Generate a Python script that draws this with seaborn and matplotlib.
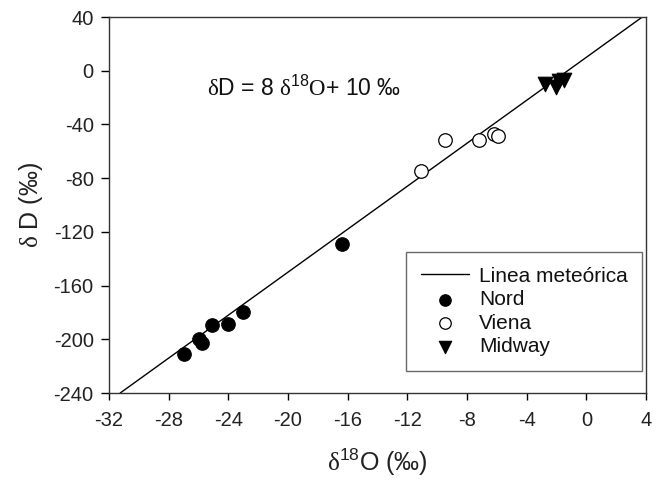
import matplotlib
matplotlib.use("Agg")
import matplotlib.pyplot as plt
import seaborn as sns
import pandas as pd

# Data
line_x = [-31.25, 3.75]
line_y = [-240, 40]

nord_x = [-27.0, -25.95, -25.75, -25.1, -24.0, -23.0, -16.35]
nord_y = [-211.0, -199.5, -202.5, -189.0, -188.5, -179.5, -129.0]

viena_x = [-11.1, -9.5, -7.2, -6.2, -5.9]
viena_y = [-74.5, -51.5, -51.5, -47.0, -48.5]

midway_x = [-2.75, -2.05, -1.85, -1.5]
midway_y = [-10.0, -12.0, -7.5, -7.0]

xticks = [-32, -28, -24, -20, -16, -12, -8, -4, 0, 4]
yticks = [40, 0, -40, -80, -120, -160, -200, -240]

sns.set_theme(style="white")
plt.rcParams['font.family'] = ['Liberation Sans', 'DejaVu Sans']
plt.rcParams['axes.unicode_minus'] = False
plt.rcParams['mathtext.fontset'] = 'custom'
plt.rcParams['mathtext.rm'] = 'Liberation Serif'
plt.rcParams['mathtext.sf'] = 'Liberation Sans'
plt.rcParams['mathtext.it'] = 'Liberation Sans'

fig = plt.figure(figsize=(6.63, 4.79), dpi=100)
ax = fig.add_axes([0.1644, 0.1795, 0.81, 0.785])

line_df = pd.DataFrame({"x": line_x, "y": line_y})
nord_df = pd.DataFrame({"x": nord_x, "y": nord_y})
viena_df = pd.DataFrame({"x": viena_x, "y": viena_y})
midway_df = pd.DataFrame({"x": midway_x, "y": midway_y})

sns.lineplot(data=line_df, x="x", y="y", ax=ax, color="black", linewidth=1.0,
             label="Linea meteórica")
sns.scatterplot(data=nord_df, x="x", y="y", ax=ax, marker="o", s=95,
                color="black", edgecolor="black", linewidth=0.8, label="Nord", zorder=3)
sns.scatterplot(data=viena_df, x="x", y="y", ax=ax, marker="o", s=95,
                facecolor="white", edgecolor="black", linewidth=0.9, label="Viena", zorder=3)
sns.scatterplot(data=midway_df, x="x", y="y", ax=ax, marker="v", s=110,
                color="black", edgecolor="black", linewidth=0.8, label="Midway", zorder=3)

ax.set_xlim(-32, 4)
ax.set_ylim(-240, 40)
ax.set_xticks(xticks)
ax.set_yticks(yticks)
ax.tick_params(axis="both", which="both", direction="out", width=1,
               color="black", labelsize=14.5, bottom=True, left=True, top=False, right=False,
               labelcolor="#222222")
ax.tick_params(axis="x", length=5, pad=8)
ax.tick_params(axis="y", length=6, pad=5)
for sp in ax.spines.values():
    sp.set_color("#333333")
    sp.set_linewidth(1.0)

ax.set_xlabel(r"$\mathrm{\delta}^{\mathsf{18}}$O (‰)", fontsize=18, color="#222222", labelpad=12)
ax.set_ylabel(r"$\mathrm{\delta}$ D (‰)", fontsize=18, color="#222222", labelpad=6)

ax.text(-25.45, -13, r"$\mathrm{\delta}$D = 8 $\mathrm{\delta}^{\mathsf{18}}\mathrm{O}$+ 10 ‰",
        fontsize=16.5, color="#111111", ha="left", va="center")

leg = ax.legend(loc="upper right", bbox_to_anchor=(0.993, 0.375), borderaxespad=0,
                fontsize=15, frameon=True, fancybox=False, edgecolor="#444444",
                handlelength=2.3, borderpad=0.7, labelspacing=0.22, handletextpad=0.5,
                markerscale=0.85)
leg.get_frame().set_linewidth(1.0)
for t in leg.get_texts():
    t.set_color("#111111")

fig.savefig("out.png", dpi=100, facecolor="white")
